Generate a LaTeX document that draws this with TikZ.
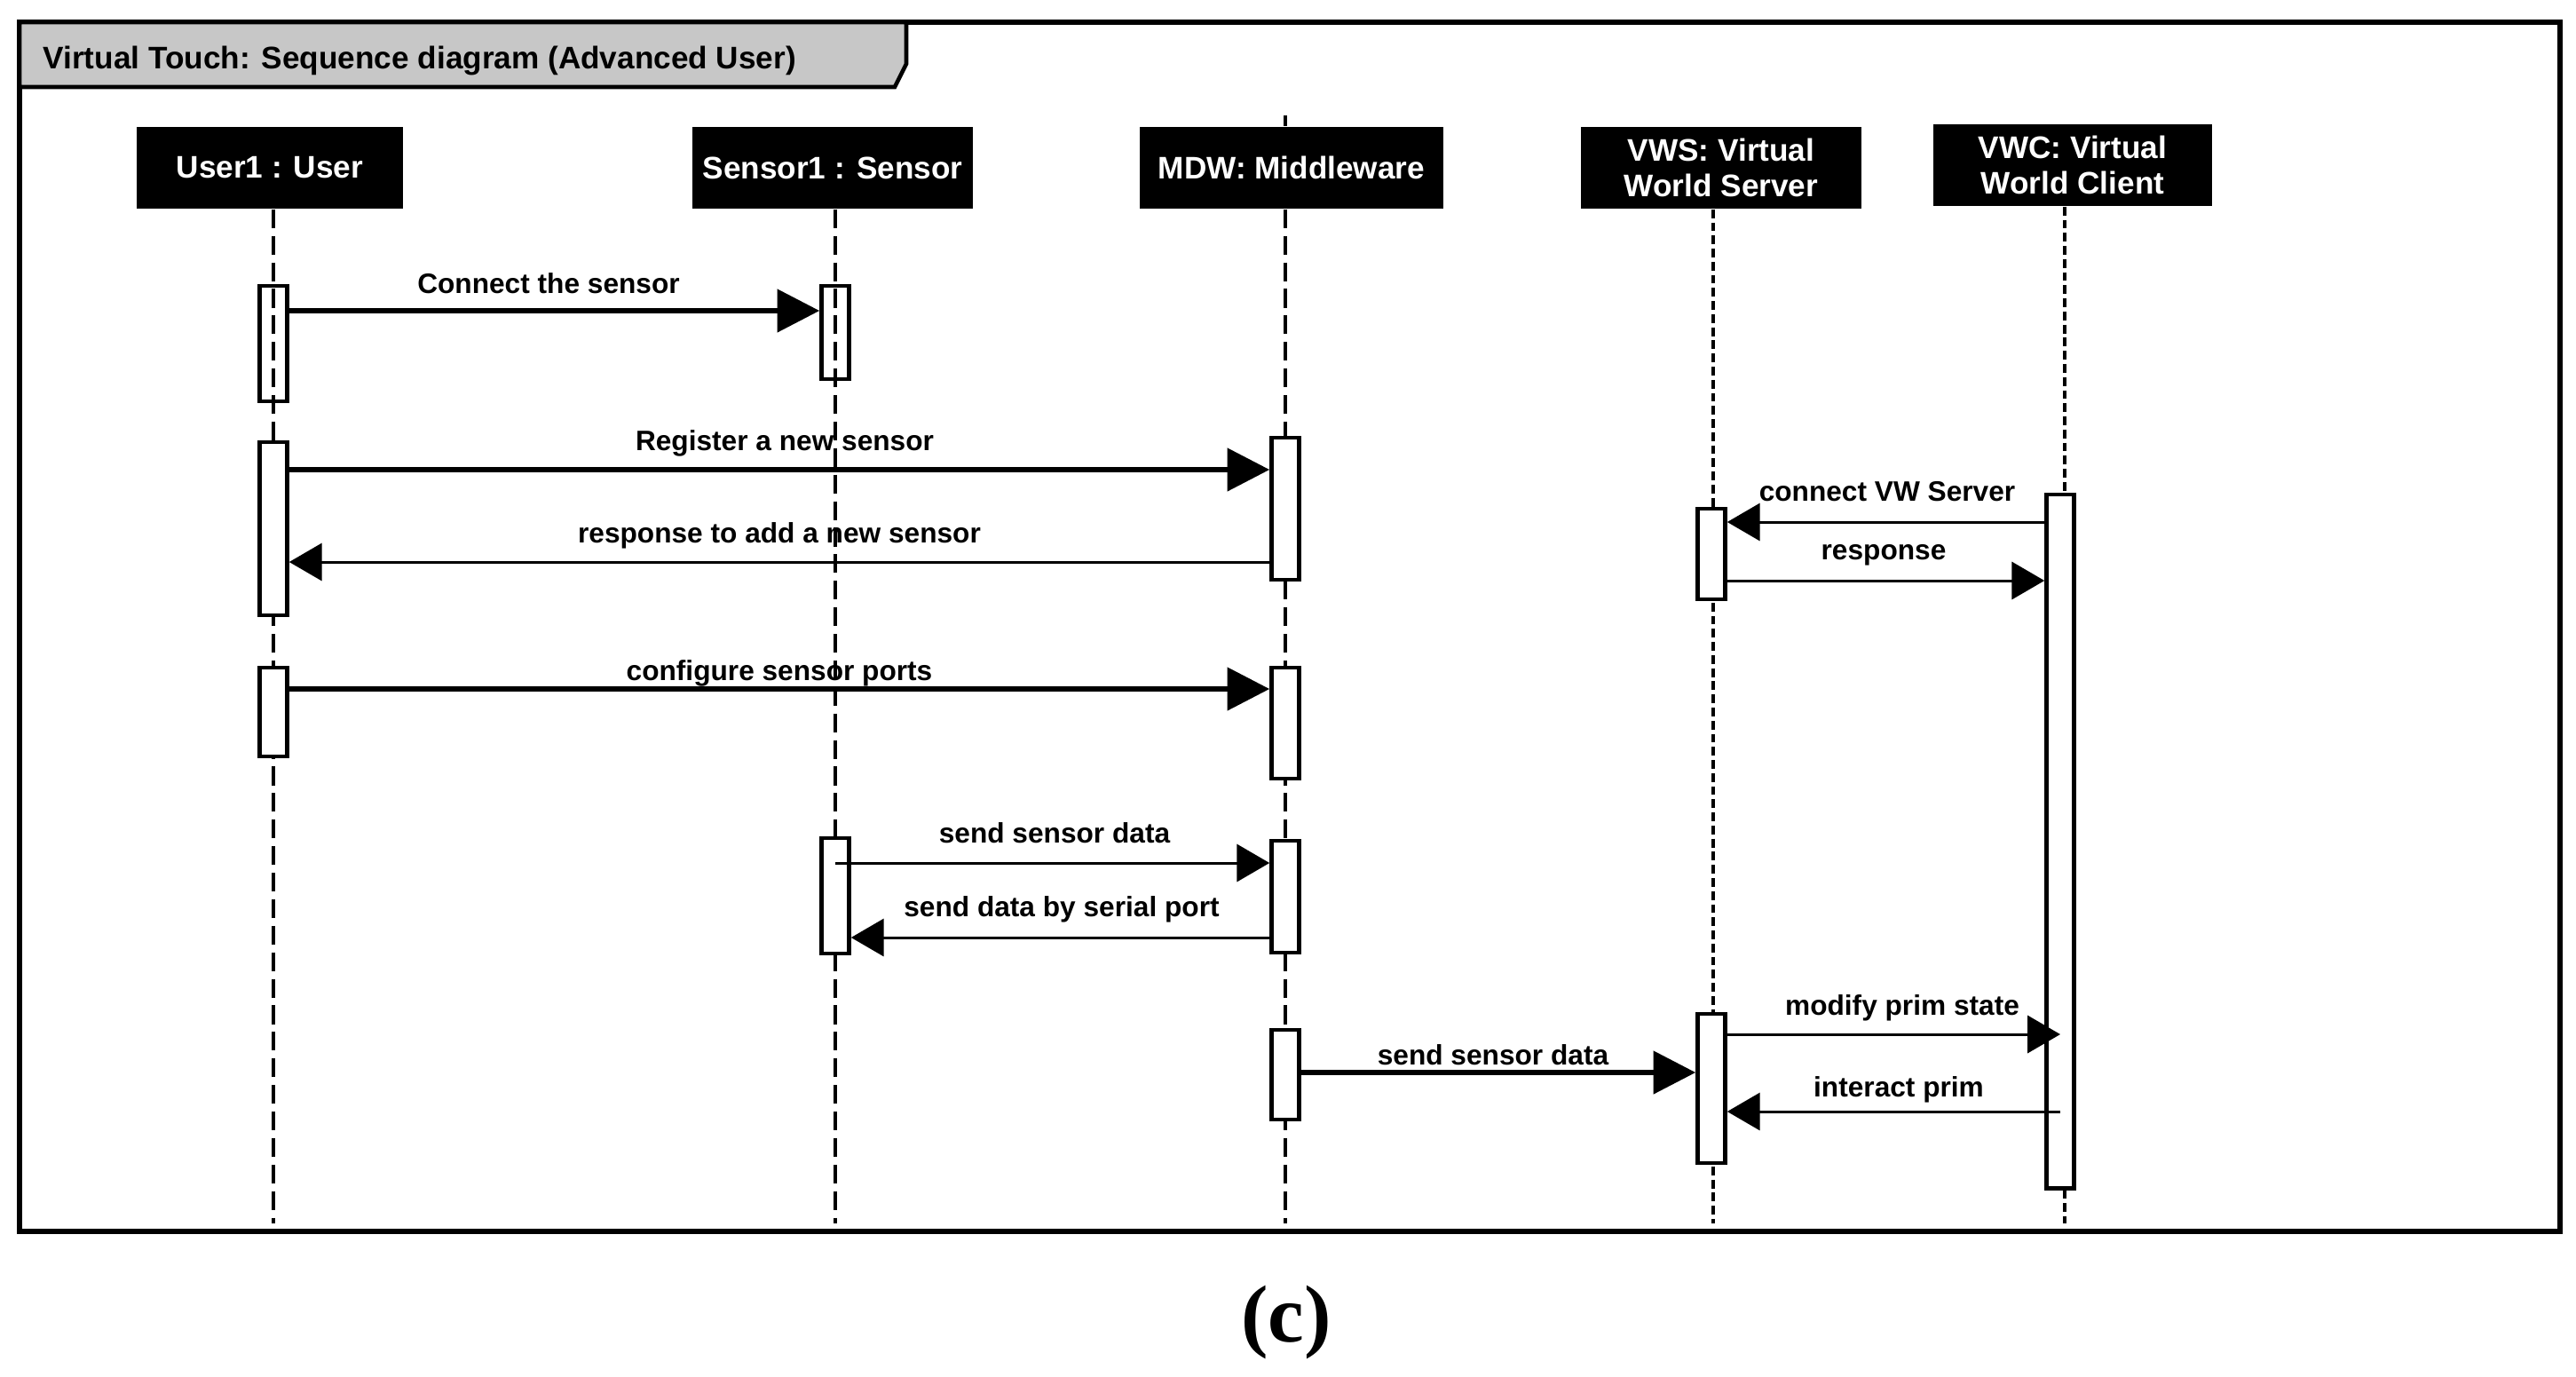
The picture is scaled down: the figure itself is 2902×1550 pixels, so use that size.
\documentclass[tikz,border=0pt]{standalone}
\usepackage{fontspec}
\setmainfont{Liberation Sans}
\newfontfamily\capserif{Liberation Serif}
\usetikzlibrary{arrows.meta}

\begin{document}
\begin{tikzpicture}[x=0.01cm, y=-0.01cm,
        obj/.style={fill=black, text=white, inner sep=0pt, align=center, minimum height=0.92cm, font=\fontsize{10}{11.5}\selectfont\bfseries},
        life/.style={line width=1.2pt, dash pattern=on 6pt off 2.5pt},
        fine/.style={line width=1.1pt, dash pattern=on 2.8pt off 1.4pt},
        act/.style={draw, line width=1.3pt, fill=white, inner sep=0pt, minimum width=0.31cm, minimum height=#1},
        msg/.style={line width=0.85pt, -{Triangle[length=10.5pt, width=12pt]}},
        bigmsg/.style={line width=1.7pt, -{Triangle[length=13.5pt, width=13.5pt]}},
        lbl/.style={anchor=base, inner sep=0pt, font=\fontsize{9}{11}\selectfont\bfseries}]

        \useasboundingbox (0,0) rectangle (2902,1550);

        % Cornice
        \draw[line width=1.5pt] (22,25) rectangle (2884,1387);
        \draw[line width=1.3pt, fill=black!22] (22,25) -- (1021,25) -- (1021,72) -- (1008,98) -- (22,98) -- cycle;
        \node[anchor=base west, inner sep=0pt, font=\fontsize{10}{12}\selectfont\bfseries] (title) at (48,77) {Virtual Touch: Sequence diagram (Advanced User)};

        % Oggetti
        \node[obj, minimum width=2.99cm] (user) at (304,189) {User1 : User};
        \node[obj, minimum width=3.15cm] (sensor) at (938,189) {Sensor1 : Sensor};
        \node[obj, minimum width=3.42cm] (mdw) at (1455,189) {MDW: Middleware};
        \node[obj, minimum width=3.15cm] (vws) at (1939,189) {VWS: Virtual\\World Server};
        \node[obj, minimum width=3.14cm] (vwc) at (2335,186) {VWC: Virtual\\World Client};

        % Linee di vita
        \draw[life] (user.south -| 308,0) -- (308,1378);
        \draw[life] (sensor.south -| 941,0) -- (941,1378);
        \draw[life] (1448,130) -- (mdw.north -| 1448,0); % sopra il box
        \draw[life] (mdw.south -| 1448,0) -- (1448,1378);
        \draw[fine] (vws.south -| 1930,0) -- (1930,1378);
        \draw[fine] (vwc.south -| 2326,0) -- (2326,1378);

        % Attivazioni
        \node[act=1.30cm, fill=none] (ub1) at (308,387) {};
        \node[act=1.95cm] (ub2) at (308,595.5) {};
        \node[act=1.00cm] (ub3) at (308,802) {};
        \node[act=1.05cm, fill=none] (sb1) at (941,374.5) {};
        \node[act=1.30cm] (sb2) at (941,1009) {};
        \node[act=1.60cm] (mb1) at (1448,573) {};
        \node[act=1.25cm] (mb2) at (1448,814.5) {};
        \node[act=1.26cm] (mb3) at (1448,1010) {};
        \node[act=1.01cm] (mb4) at (1448,1210.5) {};
        \node[act=1.02cm] (wb1) at (1928,624) {};
        \node[act=1.68cm] (wb2) at (1928,1226) {};
        \node[act=7.81cm] (cb1) at (2321,947.5) {};

        % Messaggi
        \draw[bigmsg] (ub1.east |- 0,350) -- (sb1.west |- 0,350);
        \draw[bigmsg] (ub2.east |- 0,529) -- (mb1.west |- 0,529);
        \draw[msg] (mb1.west |- 0,633) -- (ub2.east |- 0,633);
        \draw[bigmsg] (ub3.east |- 0,776) -- (mb2.west |- 0,776);
        \draw[msg] (sb2.center |- 0,972) -- (mb3.west |- 0,972);
        \draw[msg] (mb3.west |- 0,1056) -- (sb2.east |- 0,1056);
        \draw[bigmsg] (mb4.east |- 0,1208) -- (wb2.west |- 0,1208);
        \draw[msg] (cb1.west |- 0,588) -- (wb1.east |- 0,588);
        \draw[msg] (wb1.east |- 0,654) -- (cb1.west |- 0,654);
        \draw[msg] (wb2.east |- 0,1165) -- (cb1.center |- 0,1165);
        \draw[msg] (cb1.center |- 0,1252) -- (wb2.east |- 0,1252);

        % Etichette
        \node[lbl] (l1) at (618,330) {Connect the sensor};
        \node[lbl] (l2) at (884,507) {Register a new sensor};
        \node[lbl] (l3) at (878,611) {response to add a new sensor};
        \node[lbl] (l4) at (878,766) {configure sensor ports};
        \node[lbl] (l5) at (1188,949) {send sensor data};
        \node[lbl] (l6) at (1196,1032) {send data by serial port};
        \node[lbl] (l7) at (1682,1199) {send sensor data};
        \node[lbl] (l8) at (2126,564) {connect VW Server};
        \node[lbl] (l9) at (2122,630) {response};
        \node[lbl] (l10) at (2143,1143) {modify prim state};
        \node[lbl] (l11) at (2139,1235) {interact prim};

        \node[anchor=base, inner sep=0pt, font=\capserif\fontsize{26}{30}\selectfont\bfseries] (tag) at (1449,1511) {(c)};

    \end{tikzpicture}
\end{document}
